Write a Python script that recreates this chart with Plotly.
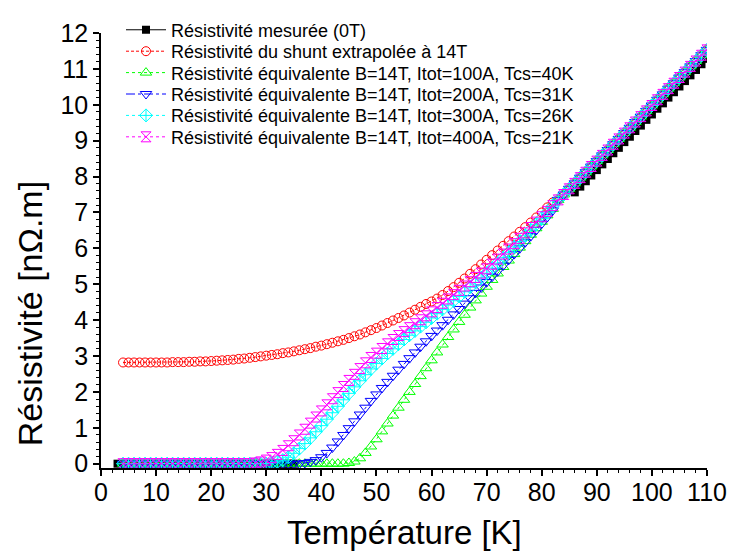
import plotly.graph_objects as go

# ---------------- data ----------------
temps = list(range(4, 111))          # sampling grid of the equivalent / shunt curves (K)

# common high-temperature part (T = 83 ... 110 K)
rho_common_high = [7.35, 7.50, 7.66, 7.81, 7.97, 8.12, 8.28, 8.43, 8.59, 8.74,
                   8.90, 9.05, 9.21, 9.36, 9.52, 9.67, 9.83, 9.98, 10.14, 10.29,
                   10.45, 10.60, 10.76, 10.91, 11.07, 11.22, 11.38, 11.53]

# T = 4 ... 82 K
rho_shunt_low = [2.82, 2.82, 2.82, 2.82, 2.82, 2.82, 2.82, 2.82, 2.82,
                 2.83, 2.83, 2.83, 2.84, 2.84, 2.85, 2.85, 2.86, 2.87, 2.88, 2.89,
                 2.90, 2.92, 2.93, 2.95, 2.97, 2.99, 3.01, 3.03, 3.05, 3.08,
                 3.10, 3.13, 3.16, 3.19, 3.22, 3.26, 3.29, 3.33, 3.37, 3.41,
                 3.45, 3.50, 3.55, 3.60, 3.66, 3.72, 3.78, 3.85, 3.92, 3.99,
                 4.06, 4.13, 4.21, 4.29, 4.37, 4.45, 4.52, 4.60, 4.70, 4.81,
                 4.92, 5.04, 5.16, 5.29, 5.42, 5.55, 5.68, 5.81, 5.94, 6.07,
                 6.20, 6.33, 6.46, 6.59, 6.72, 6.86, 7.00, 7.14, 7.28]

rho_100A_low = [
    0, 0, 0, 0, 0, 0, 0, 0, 0, 0, 0, 0, 0, 0, 0, 0, 0, 0, 0, 0,
    0, 0, 0, 0, 0, 0, 0, 0, 0, 0, 0, 0, 0, 0, 0, 0, 0, 0, 0, 0, 0,
    0.02, 0.06, 0.15, 0.30, 0.48, 0.68, 0.90, 1.12, 1.34, 1.56,
    1.78, 2.00, 2.22, 2.44, 2.66, 2.88, 3.10, 3.32, 3.53, 3.74,
    3.95, 4.15, 4.35, 4.55, 4.74, 4.93, 5.12, 5.30, 5.48, 5.66,
    5.84, 6.02, 6.20, 6.38, 6.56, 6.74, 6.92, 7.10]

rho_200A_low = [
    0, 0, 0, 0, 0, 0, 0, 0, 0, 0, 0, 0, 0, 0, 0, 0, 0, 0, 0, 0,
    0, 0, 0, 0, 0, 0, 0, 0, 0, 0, 0, 0, 0,
    0.02, 0.05, 0.10, 0.18, 0.30, 0.45, 0.62, 0.80, 0.99, 1.18,
    1.37, 1.56, 1.75, 1.93, 2.11, 2.28, 2.45, 2.62, 2.78, 2.94,
    3.10, 3.26, 3.41, 3.56, 3.71, 3.86, 4.01, 4.16, 4.31, 4.46,
    4.61, 4.76, 4.91, 5.06, 5.21, 5.36, 5.52, 5.68, 5.84, 6.00,
    6.17, 6.34, 6.51, 6.69, 6.87, 7.06]

rho_300A_low = [
    0, 0, 0, 0, 0, 0, 0, 0, 0, 0, 0, 0, 0, 0, 0, 0, 0, 0, 0, 0,
    0, 0, 0, 0, 0, 0, 0,
    0.02, 0.05, 0.10, 0.18, 0.29, 0.42, 0.56, 0.72, 0.89, 1.06,
    1.24, 1.42, 1.60, 1.78, 1.96, 2.14, 2.31, 2.48, 2.64, 2.79,
    2.93, 3.07, 3.20, 3.33, 3.46, 3.58, 3.70, 3.82, 3.94, 4.06,
    4.18, 4.30, 4.42, 4.54, 4.66, 4.79, 4.92, 5.05, 5.18, 5.31,
    5.45, 5.59, 5.74, 5.89, 6.04, 6.19, 6.35, 6.51, 6.67, 6.84,
    7.01, 7.18]

rho_400A_low = [
    0, 0, 0, 0, 0, 0, 0, 0, 0, 0, 0, 0, 0, 0, 0, 0, 0, 0, 0, 0,
    0, 0, 0, 0,
    0.02, 0.05, 0.10, 0.17, 0.26, 0.37, 0.50, 0.64, 0.80, 0.96,
    1.13, 1.30, 1.47, 1.64, 1.81, 1.98, 2.15, 2.32, 2.49, 2.65,
    2.81, 2.96, 3.08, 3.21, 3.34, 3.46, 3.57, 3.68, 3.79, 3.90,
    4.01, 4.12, 4.23, 4.35, 4.47, 4.59, 4.71, 4.83, 4.95, 5.07,
    5.19, 5.31, 5.43, 5.56, 5.70, 5.84, 5.98, 6.13, 6.28, 6.43,
    6.58, 6.73, 6.88, 7.03, 7.19]

rho_shunt = rho_shunt_low + rho_common_high
rho_100A = rho_100A_low + rho_common_high
rho_200A = rho_200A_low + rho_common_high
rho_300A = rho_300A_low + rho_common_high
rho_400A = rho_400A_low + rho_common_high

# measured resistivity at 0 T (two visible parts)
temps_meas_low = list(range(3, 36))
rho_meas_low = [0, 0, 0, 0, 0, 0, 0, 0, 0, 0, 0, 0, 0, 0, 0, 0, 0,
                0, 0, 0, 0, 0, 0, 0, 0, 0, 0, 0, 0, 0, 0, 0, 0]
temps_meas_high = list(range(86, 111))
rho_meas_high = [7.56, 7.72, 7.87, 8.03, 8.18, 8.34, 8.49, 8.65, 8.80, 8.96,
                 9.11, 9.27, 9.42, 9.58, 9.73, 9.89, 10.04, 10.20, 10.35, 10.51,
                 10.66, 10.82, 10.97, 11.13, 11.28]

names = ["Résistivité mesurée (0T)",
         "Résistivité du shunt extrapolée à 14T",
         "Résistivité équivalente B=14T, Itot=100A, Tcs=40K",
         "Résistivité équivalente B=14T, Itot=200A, Tcs=31K",
         "Résistivité équivalente B=14T, Itot=300A, Tcs=26K",
         "Résistivité équivalente B=14T, Itot=400A, Tcs=21K"]

x_ticks = [0, 10, 20, 30, 40, 50, 60, 70, 80, 90, 100, 110]
y_ticks = [0, 1, 2, 3, 4, 5, 6, 7, 8, 9, 10, 11, 12]

# ---------------- figure ----------------
FONT = "Arial, 'Liberation Sans', sans-serif"
W, H = 731, 554
ML, MR, MT, MB = 101, 24, 21, 86
PW, PH = W - ML - MR, H - MT - MB

def px2paper_x(px):
    return (px - ML) / PW

def px2paper_y(py):
    return (H - MB - py) / PH

fig = go.Figure()
legend_ids = ["legend", "legend2", "legend3", "legend4", "legend5", "legend6"]

fig.add_trace(go.Scatter(
    x=temps_meas_low + [None] + temps_meas_high,
    y=rho_meas_low + [None] + rho_meas_high,
    mode="lines+markers", name=names[0], legend=legend_ids[0],
    line=dict(color="black", width=1, dash="solid"),
    marker=dict(symbol="square", size=8, color="black"),
    connectgaps=False))

fig.add_trace(go.Scatter(
    x=temps, y=rho_shunt, mode="lines+markers", name=names[1], legend=legend_ids[1],
    line=dict(color="red", width=1, dash="3px,2px"),
    marker=dict(symbol="circle-open", size=9, color="red", line=dict(width=1))))

fig.add_trace(go.Scatter(
    x=temps, y=rho_100A, mode="lines+markers", name=names[2], legend=legend_ids[2],
    line=dict(color="#00ff00", width=1, dash="dot"),
    marker=dict(symbol="triangle-up-open", size=10, color="#00ff00", line=dict(width=1))))

fig.add_trace(go.Scatter(
    x=temps, y=rho_200A, mode="lines+markers", name=names[3], legend=legend_ids[3],
    line=dict(color="blue", width=1, dash="dashdot"),
    marker=dict(symbol="triangle-down-open", size=10, color="blue", line=dict(width=1))))

fig.add_trace(go.Scatter(
    x=temps, y=rho_300A, mode="lines+markers", name=names[4], legend=legend_ids[4],
    line=dict(color="cyan", width=1, dash="dot"),
    marker=dict(symbol="diamond-cross-open", size=10, color="cyan", line=dict(width=1))))

fig.add_trace(go.Scatter(
    x=temps, y=rho_400A, mode="lines+markers", name=names[5], legend=legend_ids[5],
    line=dict(color="magenta", width=1, dash="dot"),
    marker=dict(symbol="hourglass-open", size=10, color="magenta", line=dict(width=1))))

axis_common = dict(
    showline=True, linecolor="black", linewidth=1.5, mirror=False,
    showgrid=False, zeroline=False, automargin=False,
    ticks="outside", ticklen=6, tickwidth=1.5, tickcolor="black",
    tickfont=dict(family=FONT, size=25, color="black"),
)

fig.update_xaxes(
    range=[0, 110], tickvals=x_ticks, ticktext=[str(v) for v in x_ticks],
    ticklabelstandoff=-5,
    minor=dict(dtick=2, ticks="outside", ticklen=3, tickwidth=1, tickcolor="black", showgrid=False),
    **axis_common)

fig.update_yaxes(
    range=[-0.12, 12], tickvals=y_ticks, ticktext=[str(v) for v in y_ticks],
    minor=dict(dtick=0.2, tick0=0, ticks="outside", ticklen=3, tickwidth=1, tickcolor="black", showgrid=False),
    **axis_common)

# axis titles as annotations for exact placement
fig.add_annotation(text="Température [K]", xref="paper", yref="paper",
                   x=0.5, y=px2paper_y(534), xanchor="center", yanchor="middle",
                   showarrow=False, font=dict(family=FONT, size=33, color="black"))
fig.add_annotation(text="Résistivité [nΩ.m]", xref="paper", yref="paper",
                   x=px2paper_x(30), y=px2paper_y(310), xanchor="center", yanchor="middle",
                   textangle=-90, showarrow=False,
                   font=dict(family=FONT, size=34, color="black"))

layout_legends = {}
row_centers = [18, 40, 62, 84, 106, 128]
for lid, yc in zip(legend_ids, row_centers):
    layout_legends[lid] = dict(
        x=px2paper_x(121), y=px2paper_y(yc), xanchor="left", yanchor="middle",
        bgcolor="rgba(0,0,0,0)", borderwidth=0,
        font=dict(family=FONT, size=18, color="black"),
        itemwidth=40)

fig.update_layout(
    width=W, height=H,
    margin=dict(l=ML, r=MR, t=MT, b=MB),
    paper_bgcolor="white", plot_bgcolor="white",
    font=dict(family=FONT, color="black"),
    showlegend=True,
    **layout_legends,
)

fig.write_html("out.html",
               config={"displayModeBar": False},
               post_script="document.body.style.margin='0px';document.body.style.padding='0px';"
                           "document.body.style.overflow='hidden';")
